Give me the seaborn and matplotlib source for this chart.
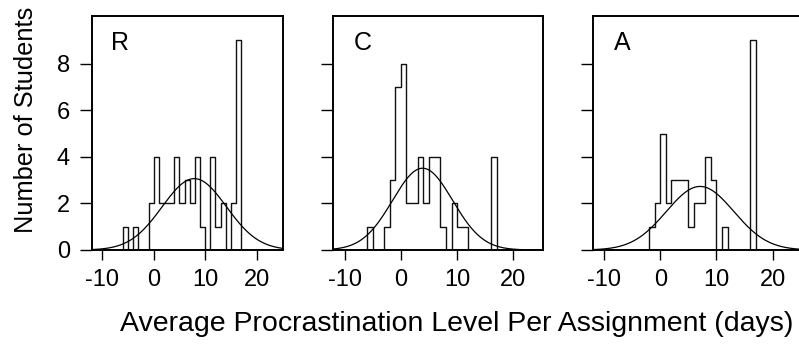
import numpy as np
import pandas as pd
import matplotlib
matplotlib.use("Agg")
import matplotlib.pyplot as plt
import seaborn as sns

# ---- data (histogram counts per 1-day bin, bin lower edges) ----
bin_starts = list(range(-7, 18))  # -7 .. 17 (empty bins at both ends)
counts_R = [0, 1, 0, 1, 0, 0, 2, 4, 2, 2, 2, 4, 2, 3, 2, 4, 1, 0, 4, 1, 2, 0, 2, 9, 0]
counts_C = [0, 1, 0, 0, 1, 3, 7, 8, 2, 2, 4, 2, 4, 4, 1, 0, 2, 1, 1, 0, 0, 0, 0, 4, 0]
counts_A = [0, 0, 0, 0, 0, 1, 2, 5, 2, 3, 3, 3, 1, 2, 2, 4, 3, 0, 1, 0, 0, 0, 0, 9, 0]
panel_labels = ["R", "C", "A"]
x_ticks = [-10, 0, 10, 20]
y_ticks = [0, 2, 4, 6, 8]
x_label = "Average Procrastination Level Per Assignment (days)"
y_label = "Number of Students"

sns.set_style("white")
plt.rcParams["font.family"] = ["Liberation Sans", "DejaVu Sans"]
FS = 17

W, H = 799, 345
fig = plt.figure(figsize=(W / 100, H / 100), dpi=100)

# axes boxes in pixel coords (left, right, top, bottom)
boxes = [(92, 283.3, 16, 250), (333.3, 542.7, 16, 250), (592.7, 802, 16, 250)]

centers = np.array(bin_starts) + 0.5
xs = np.linspace(-12, 25.2, 400)

for i, (counts, lab, (l, r, t, b)) in enumerate(
        zip([counts_R, counts_C, counts_A], panel_labels, boxes)):
    ax = fig.add_axes([l / W, 1 - b / H, (r - l) / W, (b - t) / H])
    df = pd.DataFrame({"x": centers, "w": np.array(counts, float)})
    sns.histplot(data=df, x="x", weights="w", binwidth=1,
                 binrange=(bin_starts[0], bin_starts[-1] + 1), element="step",
                 fill=False, color="#111111", linewidth=1.0, ax=ax)
    w = np.array(counts, float)
    n = w.sum()
    mu = (centers * w).sum() / n
    sd = np.sqrt(((centers - mu) ** 2 * w).sum() / (n - 1))
    dens = n * 1.0 * np.exp(-0.5 * ((xs - mu) / sd) ** 2) / (sd * np.sqrt(2 * np.pi))
    sns.lineplot(x=xs, y=dens, color="black", linewidth=0.9, ax=ax)
    ax.set_xlim(-12, 25.2)
    ax.set_ylim(0, 10.05)
    ax.set_xticks(x_ticks)
    ax.set_yticks(y_ticks)
    ax.set_xticklabels([str(v) for v in x_ticks], fontsize=FS)
    if i == 0:
        ax.set_yticklabels([str(v) for v in y_ticks], fontsize=FS)
    else:
        ax.set_yticklabels([])
    ax.set_xlabel("")
    ax.set_ylabel("")
    ax.tick_params(axis="x", direction="out", length=7, width=1.0, pad=7,
                   colors="black", bottom=True)
    ax.tick_params(axis="y", direction="out", length=9, width=1.0, pad=7,
                   colors="black", left=True)
    for s in ax.spines.values():
        s.set_visible(True)
        s.set_color("black")
        s.set_linewidth(1.4)
    ax.text(0.10, 0.855, lab, transform=ax.transAxes, fontsize=FS + 1,
            ha="left", va="baseline", color="black")

fig.text(26 / W, 1 - 120 / H, y_label, rotation=90, ha="center", va="center",
         fontsize=FS + 1.3, color="black")
fig.text(457 / W, 1 - 324 / H, x_label, ha="center", va="center",
         fontsize=20.5, color="black")

fig.savefig("out.png", dpi=100, facecolor="white")
